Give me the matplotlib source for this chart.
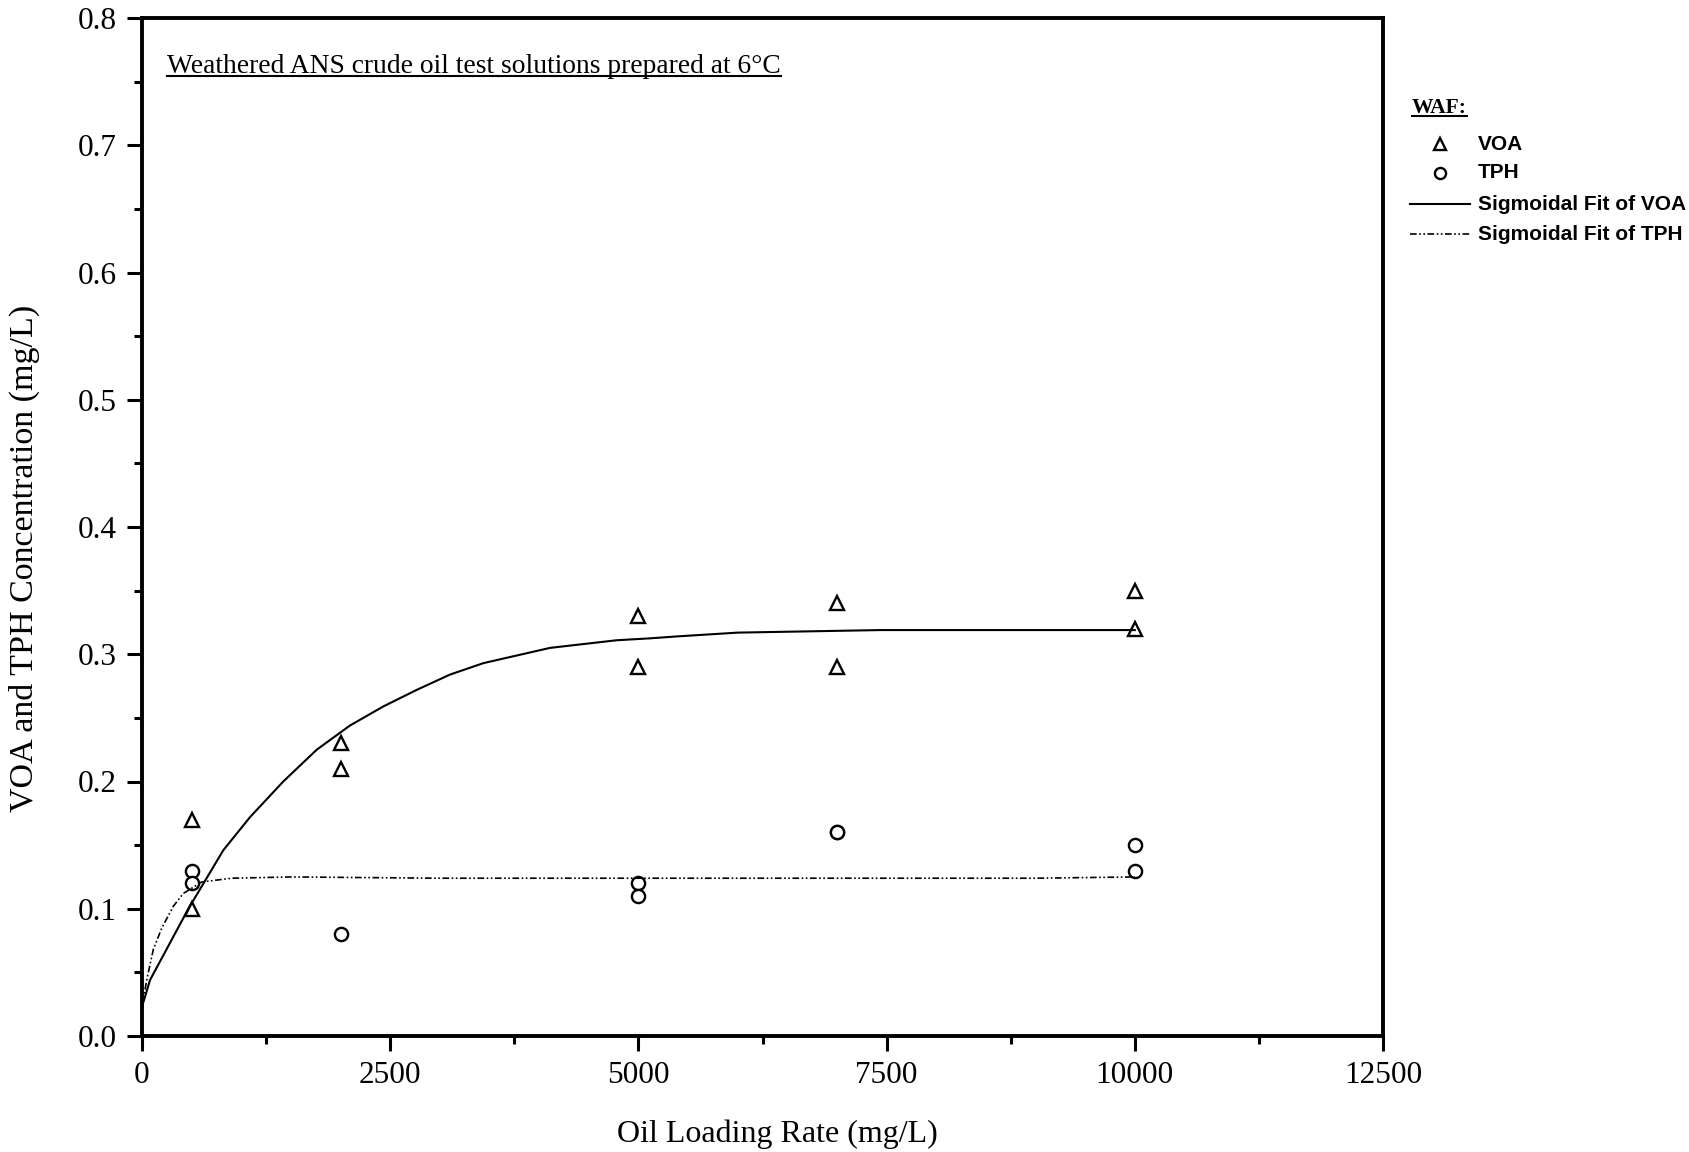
import matplotlib
matplotlib.use("Agg")
import matplotlib.pyplot as plt
from matplotlib.lines import Line2D

# ---- data ----
voa_x = [500, 500, 2000, 2000, 5000, 5000, 7000, 7000, 10000, 10000]
voa_y = [0.17, 0.10, 0.23, 0.21, 0.33, 0.29, 0.34, 0.29, 0.35, 0.32]

tph_x = [500, 500, 2000, 5000, 5000, 7000, 7000, 10000, 10000]
tph_y = [0.13, 0.12, 0.08, 0.12, 0.11, 0.16, 0.16, 0.15, 0.13]

voa_fit_x = [0, 81, 467, 819, 1088, 1423, 1760, 2095, 2431, 2767, 3102, 3438,
             3774, 4110, 4445, 4781, 5117, 5385, 6000, 7433, 9146, 10000]
voa_fit_y = [0.023, 0.044, 0.100, 0.146, 0.172, 0.200, 0.225, 0.244, 0.259,
             0.272, 0.284, 0.293, 0.299, 0.305, 0.308, 0.311, 0.3125, 0.314,
             0.317, 0.319, 0.319, 0.319]

tph_fit_x = [0, 50, 114, 200, 316, 416, 600, 900, 1500, 3000, 5000, 7000, 9000, 10000]
tph_fit_y = [0.023, 0.045, 0.068, 0.085, 0.102, 0.112, 0.121, 0.124, 0.125,
             0.124, 0.124, 0.124, 0.124, 0.125]

x_ticks = [0, 2500, 5000, 7500, 10000, 12500]
y_ticks = [0.0, 0.1, 0.2, 0.3, 0.4, 0.5, 0.6, 0.7, 0.8]

title_text = "Weathered ANS crude oil test solutions prepared at 6°C"
x_label = "Oil Loading Rate (mg/L)"
y_label = "VOA and TPH Concentration (mg/L)"
legend_title = "WAF:"
legend_labels = ["VOA", "TPH", "Sigmoidal Fit of VOA", "Sigmoidal Fit of TPH"]

# ---- figure ----
W, H = 1689, 1152
fig = plt.figure(figsize=(W / 100, H / 100), dpi=100)
L, R, T, B = 142, 1383, 18, 1036
ax = fig.add_axes([L / W, 1 - B / H, (R - L) / W, (B - T) / H])

serif = ["Liberation Serif", "DejaVu Serif"]
sans = ["Liberation Sans", "DejaVu Sans"]

tri_style = dict(linestyle="none", marker="^", markerfacecolor="white",
                 markeredgecolor="black", markeredgewidth=1.7)
circ_style = dict(linestyle="none", marker="o", markerfacecolor="white",
                  markeredgecolor="black", markeredgewidth=1.7)
voa_line = dict(color="black", linewidth=1.5)
tph_line = dict(color="black", linewidth=1.2, linestyle=(0, (4, 1.5, 1, 1.5, 1, 1.5)))

ax.plot(voa_x, voa_y, markersize=10.5, **tri_style)
ax.plot(tph_x, tph_y, markersize=9.5, **circ_style)
ax.plot(voa_fit_x, voa_fit_y, **voa_line)
ax.plot(tph_fit_x, tph_fit_y, **tph_line)

ax.set_xlim(0, 12500)
ax.set_ylim(0, 0.8)
ax.set_xticks(x_ticks)
ax.set_yticks(y_ticks)
ax.set_xticklabels([str(v) for v in x_ticks], fontfamily=serif, fontsize=22.5)
ax.set_yticklabels([f"{v:.1f}" for v in y_ticks], fontfamily=serif, fontsize=22.5)
ax.set_xticks([1250 + 2500 * i for i in range(5)], minor=True)
ax.set_yticks([0.05 + 0.1 * i for i in range(8)], minor=True)
ax.tick_params(which="major", direction="out", length=11, width=2.2, pad=7)
ax.tick_params(which="minor", direction="out", length=6, width=2.2)
for s in ax.spines.values():
    s.set_linewidth(2.8)

fig.text(777 / W, 1 - 1134 / H, x_label, ha="center", va="center",
         fontfamily=serif, fontsize=23)
fig.text(24 / W, 1 - 558 / H, y_label, ha="center", va="center", rotation=90,
         fontfamily=serif, fontsize=24.5)

ttl = ax.text((167 - L) / (R - L), (B - 73) / (B - T), title_text,
              transform=ax.transAxes, ha="left", va="baseline",
              fontfamily=serif, fontsize=19.8)

# ---- legend (drawn in figure pixel positions) ----
def fx(px):
    return px / W

def fy(py):
    return 1 - py / H

leg_title = fig.text(fx(1412), fy(113), legend_title, ha="left", va="baseline",
                     fontfamily=serif, fontsize=15.5, fontweight="bold")
rows_y = [144, 173, 204, 234]
handle_x0, handle_x1, text_x = 1410, 1470, 1478
fig.add_artist(Line2D([fx(1440)], [fy(rows_y[0])], transform=fig.transFigure,
                      markersize=8.5, **tri_style))
fig.add_artist(Line2D([fx(1440)], [fy(rows_y[1])], transform=fig.transFigure,
                      markersize=8, **circ_style))
fig.add_artist(Line2D([fx(handle_x0), fx(handle_x1)], [fy(rows_y[2])] * 2,
                      transform=fig.transFigure, **voa_line))
fig.add_artist(Line2D([fx(handle_x0), fx(handle_x1)], [fy(rows_y[3])] * 2,
                      transform=fig.transFigure, **tph_line))
for lab, yy in zip(legend_labels, rows_y):
    fig.text(fx(text_x), fy(yy), lab, ha="left", va="center",
             fontfamily=sans, fontsize=15, fontweight="bold")

# underline title and legend title
fig.canvas.draw()
rend = fig.canvas.get_renderer()
inv = fig.transFigure.inverted()
for t, off in [(ttl, 3), (leg_title, 2)]:
    bb = t.get_window_extent(rend)
    (x0, y0) = inv.transform((bb.x0, bb.y0 + off))
    (x1, _) = inv.transform((bb.x1, bb.y0 + off))
    fig.add_artist(Line2D([x0, x1], [y0, y0], transform=fig.transFigure,
                          color="black", linewidth=1.5))

fig.savefig("out.png", dpi=100)
